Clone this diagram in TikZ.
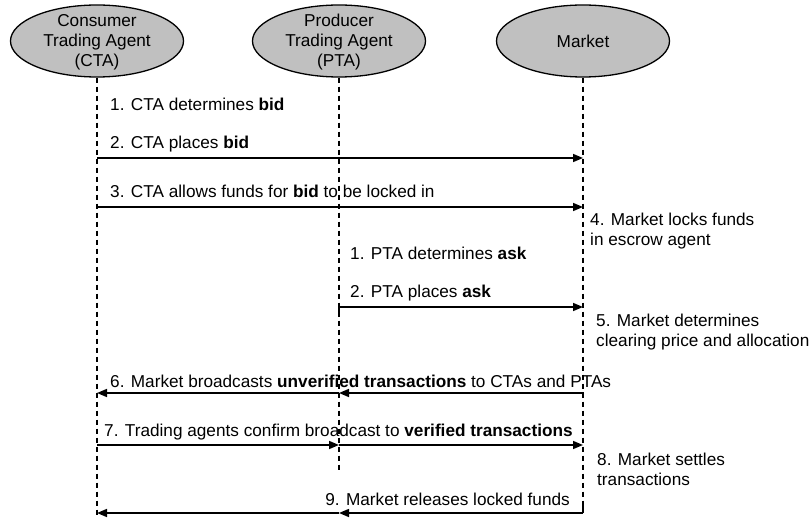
\documentclass[tikz,border=0pt]{standalone}
\usepackage{fontspec}
\setmainfont{Liberation Sans}
\usetikzlibrary{arrows.meta,shapes.geometric}
\definecolor{agentgray}{RGB}{192,192,192}
\tikzset{
  agent/.style={draw=black, line width=1.3bp, fill=agentgray, ellipse,
    minimum width=173bp, minimum height=72bp, inner sep=0pt},
  agenttext/.style={align=center, inner sep=0pt,
    font=\fontsize{17.2bp}{20bp}\selectfont},
  lifeline/.style={line width=1.3bp, dash pattern=on 5bp off 4bp},
  msg/.style={line width=1.5bp, -{Triangle[length=10bp,width=8bp]}},
  note/.style={anchor=base west, inner sep=0pt,
    font=\fontsize{17.2bp}{20bp}\selectfont},
  noteright/.style={note, anchor=base east}
}
\begin{document}
\begin{tikzpicture}[x=1bp, y=-1bp]
  \useasboundingbox (0,0) rectangle (809,520);

  % participants
  \node[agent] (cta) at (97,41) {};
  \node[agenttext] (ctat) at (97,42) {Consumer\\Trading Agent\\(CTA)};
  \node[agent] (pta) at (339,41) {};
  \node[agenttext] (ptat) at (339,42) {Producer\\Trading Agent\\(PTA)};
  \node[agent] (mkt) at (583,41) {};
  \node[agenttext] (mktt) at (mkt) {Market};

  % lifeline ends
  \coordinate (ctaend) at (97,517);
  \coordinate (ptaend) at (339,471);
  \coordinate (mktend) at (583,513);
  \draw[lifeline] (cta.south) -- (ctaend);
  \draw[lifeline] (pta.south) -- (ptaend);
  \draw[lifeline] (mkt.south) -- (mktend);

  % message anchor points on the lifelines
  \coordinate (c2) at (97,158);  \coordinate (m2) at (583,158);
  \coordinate (c3) at (97,207);  \coordinate (m3) at (583,207);
  \coordinate (p5) at (339,307); \coordinate (m5) at (583,307);
  \coordinate (c6) at (97,393);  \coordinate (p6) at (339,393); \coordinate (m6) at (584,393);
  \coordinate (c7) at (97,445);  \coordinate (p7) at (339,445); \coordinate (m7) at (583,445);
  \coordinate (c9) at (97,513);  \coordinate (p9) at (339,513); \coordinate (m9) at (583,513);

  % consumer side
  \node[note] (t1) at (110,111) {1. CTA determines \textbf{bid}};
  \node[note] (t2) at (110,149) {2. CTA places \textbf{bid}};
  \draw[msg] (c2) -- (m2);
  \node[note] (t3) at (110,198) {3. CTA allows funds for \textbf{bid} to be locked in};
  \draw[msg] (c3) -- (m3);
  \node[note, align=left] (t4) at (590,246) {4. Market locks funds\\in escrow agent};

  % producer side
  \node[note] (u1) at (350,260) {1. PTA determines \textbf{ask}};
  \node[note] (u2) at (350,298) {2. PTA places \textbf{ask}};
  \draw[line width=1.5bp] (339,312) -- (p5);
  \draw[msg] (p5) -- (m5);
  \node[note, align=left] (t5) at (596,346) {5. Market determines\\clearing price and allocation};

  % clearing and settlement
  \node[note] (t6) at (110,387) {6. Market broadcasts \textbf{unverified transactions} to CTAs and PTAs};
  \draw[msg] (m6) -- (p6);
  \draw[msg] (p6) -- (c6);
  \node[note] (t7) at (104,436) {7. Trading agents confirm broadcast to \textbf{verified transactions}};
  \draw[msg] (c7) -- (p7);
  \draw[msg] (p7) -- (m7);
  \node[note, align=left] (t8) at (597,485) {8. Market settles\\transactions};
  \node[noteright] (t9) at (570,505) {9. Market releases locked funds};
  \draw[line width=1.5bp] (583,505) -- (m9);
  \draw[msg] (m9) -- (p9);
  \draw[msg] (p9) -- (c9);
\end{tikzpicture}
\end{document}
